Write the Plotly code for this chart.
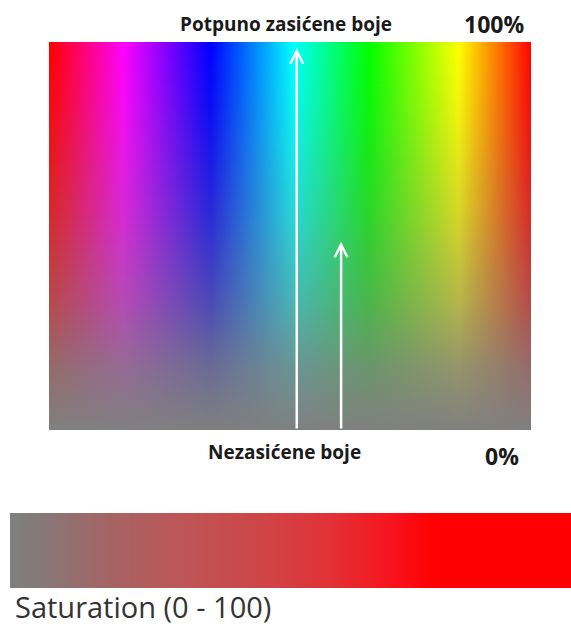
import plotly.graph_objects as go

# ---- data ----
# hue spectrum across the main box (position 0..1 left->right, colour)
hue_positions = [0.0, 0.154, 0.334, 0.506, 0.662, 0.849, 1.0]
hue_colors = ["rgb(255,0,0)", "rgb(255,0,255)", "rgb(0,0,255)", "rgb(0,255,255)",
              "rgb(0,255,0)", "rgb(255,255,0)", "rgb(255,0,0)"]

# saturation (%) down the main box (position 0 = top, 1 = bottom)
sat_rows = [0.0, 0.15, 0.28, 0.45, 0.67, 0.84, 1.0]
sat_values = [100, 92, 82, 67, 42, 16, 0]
gray_rgb = (128, 128, 128)

# saturation bar (position 0..1 left->right, colour)
bar_positions = [0.0, 0.046, 0.176, 0.307, 0.437, 0.567, 0.695, 0.761, 1.0]
bar_colors = ["rgb(128,128,128)", "rgb(132,122,122)", "rgb(165,100,100)", "rgb(190,85,86)",
              "rgb(205,70,72)", "rgb(225,50,55)", "rgb(250,15,25)", "rgb(255,0,0)", "rgb(255,0,0)"]

# arrows: spectrum position and tip saturation level (fraction from top)
arrow_x = [0.514, 0.606]
arrow_tip = [0.016, 0.515]

top_label = "Potpuno zasićene boje"
bottom_label = "Nezasićene boje"
top_pct = "100%"
bottom_pct = "0%"
bar_title = "Saturation (0 - 100)"

# ---- figure ----
FW, FH = 571, 626
fig = go.Figure()

# hue spectrum
fig.add_trace(go.Heatmap(
    x=[0, 1], y=[0, 1], z=[[0, 1], [0, 1]],
    colorscale=[[p, c] for p, c in zip(hue_positions, hue_colors)],
    zmin=0, zmax=1, zsmooth="best", showscale=False, hoverinfo="skip",
    xaxis="x", yaxis="y"))

# grey veil that removes saturation toward the bottom
veil = [[t, "rgba(%d,%d,%d,%.3f)" % (gray_rgb + (1 - s / 100.0,))]
        for t, s in zip(sat_rows, sat_values)]
fig.add_trace(go.Heatmap(
    x=[0, 1], y=[0, 1], z=[[0, 0], [1, 1]],
    colorscale=veil, zmin=0, zmax=1, zsmooth="best", showscale=False,
    hoverinfo="skip", xaxis="x", yaxis="y"))

# saturation bar
fig.add_trace(go.Heatmap(
    x=[0, 100], y=[0, 1], z=[[0, 1], [0, 1]],
    colorscale=[[p, c] for p, c in zip(bar_positions, bar_colors)],
    zmin=0, zmax=1, zsmooth="best", showscale=False, hoverinfo="skip",
    xaxis="x2", yaxis="y2"))

ax_common = dict(visible=False, showgrid=False, zeroline=False, fixedrange=True)
fig.update_layout(
    width=FW, height=FH, autosize=False,
    margin=dict(l=0, r=0, t=0, b=0),
    paper_bgcolor="white", plot_bgcolor="white",
    xaxis=dict(domain=[49 / FW, 531 / FW], range=[0, 1], **ax_common),
    yaxis=dict(domain=[1 - 430 / FH, 1 - 42 / FH], range=[1, 0], **ax_common),
    xaxis2=dict(domain=[10 / FW, 1.0], range=[0, 100], anchor="y2", **ax_common),
    yaxis2=dict(domain=[1 - 588 / FH, 1 - 513 / FH], range=[0, 1], anchor="x2", **ax_common),
    showlegend=False,
)

annotations = []
for xa, tip in zip(arrow_x, arrow_tip):
    annotations.append(dict(
        x=xa, y=tip, ax=xa, ay=1.0, xref="x", yref="y", axref="x", ayref="y",
        text="", showarrow=True, arrowhead=5, arrowsize=1.0, arrowwidth=2.5,
        arrowcolor="white", standoff=0, startstandoff=0))

lab_font = dict(family="Open Sans", size=19, color="#1a1a1a")
pct_font = dict(family="Open Sans", size=23, color="#1a1a1a")

def P(px, py):
    return px / FW, 1 - py / FH

for txt, (px, py), f in [
        (top_label, (285.5, 24.4), lab_font),
        (top_pct, (494, 24), pct_font),
        (bottom_label, (284, 452), lab_font),
        (bottom_pct, (502, 456), pct_font)]:
    x, y = P(px, py)
    annotations.append(dict(x=x, y=y, xref="paper", yref="paper", text="<b>%s</b>" % txt,
                            showarrow=False, xanchor="center", yanchor="middle", font=f))

x, y = P(14, 606)
annotations.append(dict(x=x, y=y, xref="paper", yref="paper", text=bar_title,
                        showarrow=False, xanchor="left", yanchor="middle", borderpad=0,
                        font=dict(family="Open Sans", size=29, color="#333333")))

fig.update_layout(annotations=annotations)
fig.write_html("out.html", config={"displayModeBar": False},
               post_script="document.body.style.margin='0';")
